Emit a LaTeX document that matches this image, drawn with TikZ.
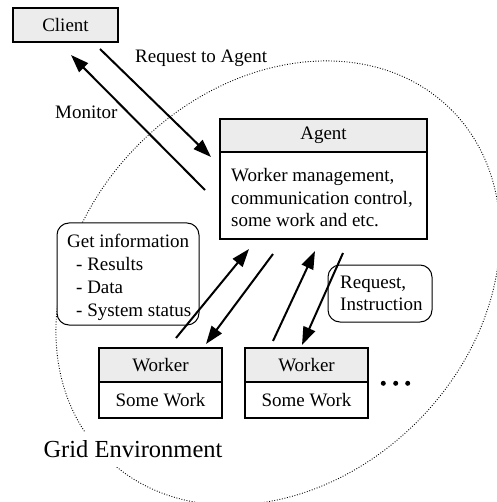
\documentclass[tikz,border=0pt]{standalone}
\usepackage{fontspec}
\setmainfont{Liberation Serif}
\usetikzlibrary{arrows.meta}
\definecolor{boxgray}{HTML}{ECECEC}
\begin{document}
\begin{tikzpicture}[x=1pt,y=-1pt,
  font=\fontsize{19}{22.8}\selectfont,
  graybox/.style={draw, line width=1.1pt, fill=boxgray, inner sep=0pt, minimum width=#1},
  whitebox/.style={draw, line width=1.1pt, fill=white, inner sep=0pt, minimum width=#1},
  roundbox/.style={draw, line width=1pt, rounded corners=12pt, fill=white, inner sep=0pt},
  txt/.style={inner sep=0pt, align=left, anchor=north west},
  lbl/.style={inner sep=0pt, anchor=base west},
  flow/.style={line width=2pt, -{Triangle[length=18pt,width=12.5pt]}},
  env/.style={line width=0.9pt, dash pattern=on 0.9pt off 1.7pt}]
\useasboundingbox (0,0) rectangle (496,502);

% grid environment boundary
\begin{scope}[shift={(278,283)}, rotate=45]
  \draw[env] (0,0) ellipse [x radius=245, y radius=196.5];
\end{scope}
\node[fill=white, inner xsep=4pt, inner ysep=9pt, anchor=base, font=\fontsize{24.5}{28}\selectfont] (grid) at (133,457.7) {Grid Environment};

% client
\node[graybox=105pt, minimum height=34pt] (client) at (65.5,25) {Client};

% agent
\node[graybox=207pt, minimum height=33pt] (agenthead) at (323.5,135.5) {Agent};
\node[whitebox=207pt, minimum height=87pt] (agent) at (323.5,195.5) {};
\node[txt] (agenttext) at (231,168) {Worker management,\\communication control,\\some work and etc.};

% workers
\node[graybox=123pt, minimum height=34pt] (w1head) at (160.5,365) {Worker};
\node[whitebox=123pt, minimum height=36pt] (w1) at (160.5,400) {Some Work};
\node[graybox=123pt, minimum height=34pt] (w2head) at (306.5,365) {Worker};
\node[whitebox=123pt, minimum height=36pt] (w2) at (306.5,400) {Some Work};
\foreach \dx in {383.3,395.7,407.7} \fill (\dx,383.3) circle (2.5pt);

% callout boxes
\node[roundbox, minimum width=142pt, minimum height=102pt] (getinfo) at (128,274) {};
\node[txt] (getinfotext) at (67,234.1) {Get information\\\hspace*{9pt}- Results\\\hspace*{9pt}- Data\\\hspace*{9pt}- System status};
\node[roundbox, minimum width=104pt, minimum height=57pt] (reqinst) at (380,293.5) {};
\node[txt] (reqinsttext) at (340,275.5) {Request,\\Instruction};

% labels
\node[lbl] (reqlbl) at (135,62.3) {Request to Agent};
\node[lbl] (monlbl) at (55,119) {Monitor};

% connector end points
\coordinate (reqS) at (100,49);
\coordinate (reqE) at (211,157);
\coordinate (monS) at (205,190);
\coordinate (monE) at (71,55);
\coordinate (a1S) at (176,338);
\coordinate (a1E) at (249,249);
\coordinate (a2S) at (273,254);
\coordinate (a2E) at (206,344);
\coordinate (a3S) at (273,341);
\coordinate (a3E) at (315,251);
\coordinate (a4S) at (343,253);
\coordinate (a4E) at (302,345);

\draw[flow] (reqS) -- (reqE);
\draw[flow] (monS) -- (monE);
\draw[flow] (a1S) -- (a1E);
\draw[flow] (a2S) -- (a2E);
\draw[flow] (a3S) -- (a3E);
\draw[flow] (a4S) -- (a4E);
\end{tikzpicture}
\end{document}
